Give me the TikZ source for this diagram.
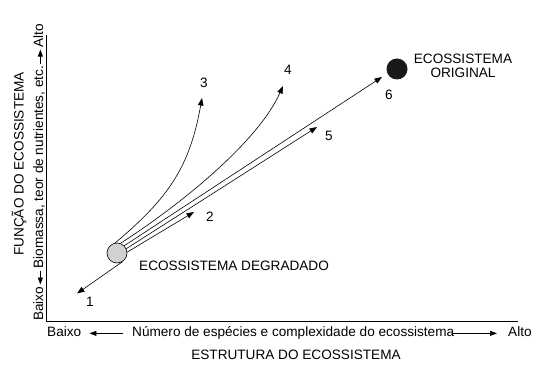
\documentclass[tikz,border=0pt]{standalone}
\usepackage{fontspec}
\setmainfont{Liberation Sans}
\usetikzlibrary{arrows.meta,calc}
\begin{document}
\begin{tikzpicture}[x=1pt,y=-1pt,
  lbl/.style={font=\fontsize{13.6}{13.6}\selectfont, inner sep=0pt},
  conn/.style={line width=0.6pt, -{Triangle[length=7.5pt,width=5.5pt]}},
  axarrow/.style={line width=0.7pt, -{Triangle[length=7pt,width=5pt]}},
  axis/.style={line width=0.8pt}]
\useasboundingbox (0,0) rectangle (551,374);
% axes
\coordinate (top) at (46,35);
\coordinate (orig) at (46,321);
\coordinate (right) at (518,321);
\draw[axis] (top) -- (orig) -- (right);
% circles
\node[circle, draw, line width=0.6pt, fill=black!18, minimum size=20pt, inner sep=0pt] (deg) at (117,253) {};
\node[circle, fill=black!90, minimum size=21pt, inner sep=0pt] (org) at (397,69) {};
% tips
\coordinate (t1) at (77,293.5);
\coordinate (t2) at (194,212);
\coordinate (t3) at (202,98);
\coordinate (t4) at (283,86);
\coordinate (t5) at (317,127);
\coordinate (t6) at (382,77);
% connectors
\draw[conn] (deg.-57) -- (t1);
\draw[conn] (deg.5) -- (t2);
\draw[conn] (deg.25) -- (t5);
\draw[conn] (deg.45) -- (t6);
\draw[conn] (deg.100) .. controls (168.6,198) and (189.8,166.9) .. (t3);
\draw[conn] (deg.70) .. controls (183.3,202.8) and (258.6,140.8) .. (t4);
% numbers
\node[lbl] (n1) at (90,302) {1};
\node[lbl] (n2) at (210,217) {2};
\node[lbl] (n3) at (204,83) {3};
\node[lbl] (n4) at (288,70) {4};
\node[lbl] (n5) at (329,136) {5};
\node[lbl] (n6) at (389,95) {6};
% labels
\node[lbl, anchor=west] (ldeg) at (139,266) {ECOSSISTEMA DEGRADADO};
\node[lbl, align=center] (lorg) at (463,66) {ECOSSISTEMA\\ORIGINAL};
\node[lbl] (xtitle) at (296,355) {ESTRUTURA DO ECOSSISTEMA};
\node[lbl, rotate=90] (ytitle) at (19,164) {FUNÇÃO DO ECOSSISTEMA};
% x axis label chain
\node[lbl, anchor=base west] (xlo) at (47,336) {Baixo};
\node[lbl, anchor=base west] (xmid) at (132,336) {Número de espécies e complexidade do ecossistema};
\node[lbl, anchor=base west] (xhi) at (508,336) {Alto};
\draw[axarrow, shorten <=9pt, shorten >=8pt] (xmid.mid west) -- (xlo.mid east);
\draw[axarrow, shorten <=-1pt, shorten >=11pt] (xmid.mid east) -- (xhi.mid west);
% y axis label chain
\node[lbl, rotate=90, anchor=base west] (ylo) at (43,321) {Baixo};
\node[lbl, rotate=90, anchor=base west] (ymid) at ($(ylo.base east)+(0,-18)$) {Biomassa, teor de nutrientes, etc.};
\node[lbl, rotate=90, anchor=base west] (yhi) at ($(ymid.base east)+(0,-18)$) {Alto};
\draw[axarrow, shorten <=2pt, shorten >=2pt] (ymid.mid west) -- (ylo.mid east);
\draw[axarrow, shorten <=2pt, shorten >=2pt] (ymid.mid east) -- (yhi.mid west);
\end{tikzpicture}
\end{document}
